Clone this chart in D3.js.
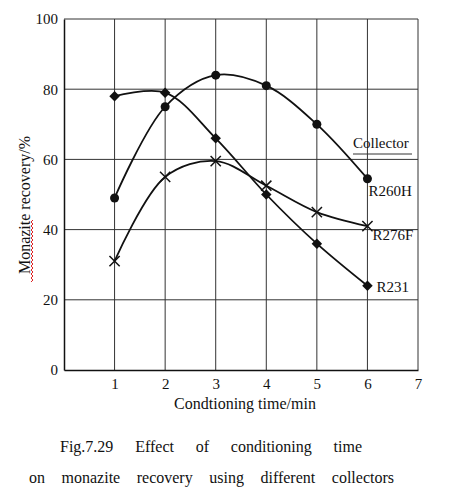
<!DOCTYPE html>
<html><head><meta charset="utf-8">
<script src="https://cdn.jsdelivr.net/npm/d3@7"></script>
<style>body{margin:0;background:#fff}svg{display:block}text{font-family:"Liberation Serif","Times New Roman",serif;fill:#111}</style>
</head><body>
<svg id="c" width="455" height="492"></svg>
<script>
const times = [1, 2, 3, 4, 5, 6];
const r260h = [49, 75, 84, 81, 70, 54.5];
const r276f = [31, 55, 59.5, 52.5, 45, 41];
const r231 = [78, 79, 66, 50, 36, 24];
const xTicks = [1, 2, 3, 4, 5, 6, 7];
const yTicks = [0, 20, 40, 60, 80, 100];
const seriesNames = ["R260H", "R276F", "R231"];
const captionLines = [
  ["Fig.7.29", "Effect", "of", "conditioning", "time"],
  ["on", "monazite", "recovery", "using", "different", "collectors"]
];

const svg = d3.select("#c");
const x = d3.scaleLinear().domain([0, 7]).range([64, 418]);
const y = d3.scaleLinear().domain([0, 100]).range([370, 19]);

// grid
const g = svg.append("g");
g.selectAll(".vg").data(xTicks).join("line")
  .attr("x1", d => x(d)).attr("x2", d => x(d)).attr("y1", y(0)).attr("y2", y(100))
  .attr("stroke", "#333").attr("stroke-width", 1);
g.selectAll(".hg").data(yTicks.filter(d => d > 0)).join("line")
  .attr("x1", x(0)).attr("x2", x(7)).attr("y1", d => y(d)).attr("y2", d => y(d))
  .attr("stroke", "#333").attr("stroke-width", 1);

// axes
const ax = svg.append("g").attr("transform", `translate(0,${y(0)})`)
  .call(d3.axisBottom(x).tickValues(xTicks).tickFormat(d3.format("d")).tickSize(0).tickPadding(8));
const ay = svg.append("g").attr("transform", `translate(${x(0)},0)`)
  .call(d3.axisLeft(y).tickValues(yTicks).tickFormat(d3.format("d")).tickSize(0).tickPadding(6));
[ax, ay].forEach(a => {
  a.select(".domain").attr("stroke", "#111").attr("stroke-width", 1.5);
  a.selectAll("text").style("font-family", '"Liberation Serif",serif').style("font-size", "15px").attr("fill", "#222");
});

// lines
const line = d3.line().x(d => x(d[0])).y(d => y(d[1])).curve(d3.curveCatmullRom.alpha(0.5));
const data = [r260h, r276f, r231].map(s => times.map((t, i) => [t, s[i]]));
svg.selectAll(".ln").data(data).join("path")
  .attr("d", line).attr("fill", "none").attr("stroke", "#111").attr("stroke-width", 1.8);

// markers
svg.selectAll(".c260").data(data[0]).join("circle")
  .attr("cx", d => x(d[0])).attr("cy", d => y(d[1])).attr("r", 4.5).attr("fill", "#111");
const diam = d3.symbol().type(d3.symbolDiamond2).size(70);
svg.selectAll(".d231").data(data[2]).join("path")
  .attr("transform", d => `translate(${x(d[0])},${y(d[1])})`).attr("d", diam).attr("fill", "#111");
const cross = d3.symbol().type(d3.symbolTimes).size(70);
svg.selectAll(".x276").data(data[1]).join("path")
  .attr("transform", d => `translate(${x(d[0])},${y(d[1])})`).attr("d", cross)
  .attr("fill", "none").attr("stroke", "#111").attr("stroke-width", 1.5);

// series labels
const lastVals = [r260h[5], r276f[5], r231[5]];
const labOff = [[1, 17], [5, 14], [9, 6]];
svg.selectAll(".lab").data(seriesNames).join("text")
  .attr("x", (d, i) => x(6) + labOff[i][0]).attr("y", (d, i) => y(lastVals[i]) + labOff[i][1])
  .style("font-size", "15px").text(d => d);

// Collector heading
svg.append("text").attr("x", 353).attr("y", 148).style("font-size", "15px").text("Collector");
svg.append("line").attr("x1", 353).attr("x2", 412).attr("y1", 154).attr("y2", 154).attr("stroke", "#333").attr("stroke-width", 1);

// axis titles
svg.append("text").attr("x", 245).attr("y", 409).attr("text-anchor", "middle")
  .style("font-size", "16px").text("Condtioning time/min");
svg.append("text").attr("transform", "translate(30,205) rotate(-90)").attr("text-anchor", "middle")
  .style("font-size", "16px").text("Monazite recovery/%");
// spell-check squiggle under "Monazite"
let sq = "M31,282";
for (let yy = 282, k = 0; yy > 220; yy -= 2, k++) sq += `L${k % 2 ? 31 : 33},${yy - 2}`;
svg.append("path").attr("d", sq).attr("fill", "none").attr("stroke", "#d22").attr("stroke-width", 1);

// caption, justified between measured extents
const capSpec = [[60, 362, 452], [29, 394, 483]];
captionLines.forEach((words, li) => {
  const [x0, x1, yb] = capSpec[li];
  const ts = words.map(w => svg.append("text").attr("y", yb).style("font-size", "16px").text(w));
  const widths = ts.map(t => t.node().getComputedTextLength());
  const gap = (x1 - x0 - d3.sum(widths)) / (words.length - 1);
  let cx = x0;
  ts.forEach((t, i) => { t.attr("x", cx); cx += widths[i] + gap; });
});
</script>
</body></html>
